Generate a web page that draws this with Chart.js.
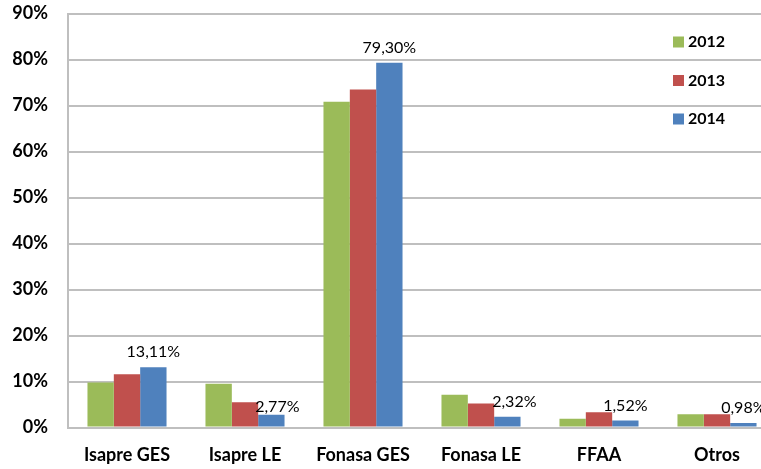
<!DOCTYPE html>
<html>
<head>
<meta charset="utf-8">
<script src="https://cdn.jsdelivr.net/npm/chart.js@4"></script>
<style>
  html, body { margin: 0; padding: 0; background: #fff; overflow: hidden; }
  #wrap { width: 761px; height: 469px; overflow: hidden; }
  #wrap div { width: 780px; height: 469px; }
</style>
</head>
<body>
<div id="wrap"><div><canvas id="chart"></canvas></div></div>
<script>
// === DATA ===
const categories = ['Isapre GES', 'Isapre LE', 'Fonasa GES', 'Fonasa LE', 'FFAA', 'Otros'];
const years = ['2012', '2013', '2014'];
const values2012 = [9.8, 9.5, 70.8, 7.1, 1.9, 2.9];
const values2013 = [11.6, 5.5, 73.5, 5.2, 3.3, 2.9];
const values2014 = [13.11, 2.77, 79.30, 2.32, 1.52, 0.98];
const colors = ['#9BBB59', '#C0504D', '#4F81BD'];

const fmt = v => v.toFixed(2).replace('.', ',') + '%';

// etiquetas de datos solo para 2014
const dataLabels = {
    id: 'dataLabels',
    afterDatasetsDraw(chart) {
        const ctx = chart.ctx;
        const meta = chart.getDatasetMeta(2);
        ctx.save();
        ctx.font = '16px Lato, sans-serif';
        ctx.fillStyle = '#000';
        ctx.textAlign = 'center';
        ctx.textBaseline = 'middle';
        meta.data.forEach((bar, i) => {
            let dx = 0, dy = 15;
            if (i === 1) { dx = 6; dy = 8; }
            if (i === 3) { dx = 7; }
            ctx.fillText(fmt(values2014[i]), bar.x + dx, bar.y - dy);
        });
        ctx.restore();
    }
};

// leyenda dentro del área
const sideLegend = {
    id: 'sideLegend',
    afterDraw(chart) {
        const ctx = chart.ctx;
        ctx.save();
        ctx.font = 'bold 16px Lato, sans-serif';
        ctx.textBaseline = 'middle';
        years.forEach((y, i) => {
            const cy = 42 + i * 38.5;
            ctx.fillStyle = colors[i];
            ctx.fillRect(673, cy - 5.5, 11, 11);
            ctx.fillStyle = '#000';
            ctx.fillText(y, 688, cy);
        });
        ctx.restore();
    }
};

new Chart(document.getElementById('chart'), {
    type: 'bar',
    data: {
        labels: categories,
        datasets: [
            { label: years[0], data: values2012, backgroundColor: colors[0] },
            { label: years[1], data: values2013, backgroundColor: colors[1] },
            { label: years[2], data: values2014, backgroundColor: colors[2] }
        ]
    },
    options: {
        responsive: true,
        maintainAspectRatio: false,
        animation: false,
        layout: { padding: { top: 13.5, right: 4, left: 0, bottom: 0 } },
        datasets: { bar: { categoryPercentage: 0.67, barPercentage: 1 } },
        scales: {
            x: {
                grid: { display: false, drawTicks: false },
                border: { color: '#BFBFBF', width: 2 },
                ticks: {
                    color: '#000',
                    padding: 17,
                    font: { family: 'Lato, sans-serif', size: 18, weight: 'bold' }
                },
                afterFit: s => { s.height = 41.5; s.paddingLeft = 0; s.paddingRight = 0; }
            },
            y: {
                min: 0,
                max: 90,
                grid: { color: '#BFBFBF', lineWidth: 2, drawTicks: false },
                border: { color: '#BFBFBF', width: 2 },
                ticks: {
                    stepSize: 10,
                    color: '#000',
                    padding: 20,
                    callback: v => v + '%',
                    font: { family: 'Lato, sans-serif', size: 18, weight: 'bold' }
                },
                afterFit: s => { s.width = 68; s.paddingTop = 0; s.paddingBottom = 0; }
            }
        },
        plugins: {
            legend: { display: false },
            tooltip: { enabled: false }
        }
    },
    plugins: [dataLabels, sideLegend]
});
</script>
</body>
</html>
